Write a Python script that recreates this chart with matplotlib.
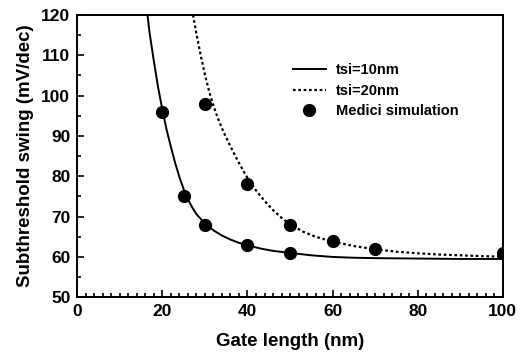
import matplotlib
matplotlib.use("Agg")
from matplotlib import pyplot as plt
from matplotlib.ticker import MultipleLocator

plt.rcParams['font.family'] = ['Liberation Sans', 'DejaVu Sans']
plt.rcParams['font.weight'] = 'bold'

# model curve, tsi = 10 nm
gate_10 = [16.5, 17, 18, 19, 20, 21, 22, 23, 24, 25, 26, 27, 28, 30, 32, 34, 36, 38, 40,
           43, 46, 50, 55, 60, 65, 70, 80, 90, 100]
swing_10 = [120, 115.5, 108.5, 102, 96.5, 91.5, 87.3, 83.3, 79.8, 76.8, 74.3, 72.3, 70.6,
            68.3, 66.6, 65.3, 64.3, 63.5, 62.9, 62.1, 61.5, 61.0, 60.4, 60.0, 59.8, 59.7,
            59.6, 59.5, 59.5]

# model curve, tsi = 20 nm
gate_20 = [27.2, 28, 29, 30, 31, 32, 33, 34, 35, 36, 37, 38, 39, 40, 41, 42, 44, 46, 48, 50,
           53, 56, 60, 65, 70, 75, 80, 85, 90, 95, 100]
swing_20 = [120, 115.3, 110, 105.2, 101, 97.5, 94.5, 91.9, 89.6, 87.4, 85.3, 83.3, 81.4,
            79.6, 78.0, 76.5, 73.9, 71.6, 69.7, 68.1, 66.3, 65.0, 63.8, 62.7, 61.9, 61.3,
            60.9, 60.6, 60.4, 60.2, 60.05]

# Medici simulation points
sim_gate = [20, 25, 30, 40, 50, 30, 40, 50, 60, 70, 100]
sim_swing = [96, 75, 68, 63, 61, 98, 78, 68, 64, 62, 61]

fig = plt.figure(figsize=(5.24, 3.56), dpi=100)
ax = fig.add_axes([0.1475, 0.165, 0.812, 0.793])

ax.plot(gate_10, swing_10, color='black', lw=1.4, label='tsi=10nm')
ax.plot(gate_20, swing_20, color='black', lw=1.6, linestyle=(0, (1.2, 1.2)), label='tsi=20nm')
ax.plot(sim_gate, sim_swing, 'o', color='black', ms=8.5, label='Medici simulation')

ax.set_xlim(0, 100)
ax.set_ylim(50, 120)
ax.xaxis.set_major_locator(MultipleLocator(20))
ax.xaxis.set_minor_locator(MultipleLocator(2))
ax.yaxis.set_major_locator(MultipleLocator(10))
ax.yaxis.set_minor_locator(MultipleLocator(5))
ax.tick_params(which='both', direction='in', labelsize=12.5, width=1.2)
ax.tick_params(which='major', length=5, pad=5)
ax.tick_params(which='minor', length=3)
for s in ax.spines.values():
    s.set_linewidth(1.4)

ax.set_xlabel('Gate length (nm)', fontsize=13.5, fontweight='bold', labelpad=10)
ax.set_ylabel('Subthreshold swing (mV/dec)', fontsize=13.5, fontweight='bold', labelpad=5)

ax.legend(loc='upper left', bbox_to_anchor=(0.475, 0.875), frameon=False,
          prop={'size': 10.5, 'weight': 'bold'}, handlelength=2.3, handletextpad=0.7,
          labelspacing=0.45, numpoints=1)

fig.savefig('out.png', dpi=100)
